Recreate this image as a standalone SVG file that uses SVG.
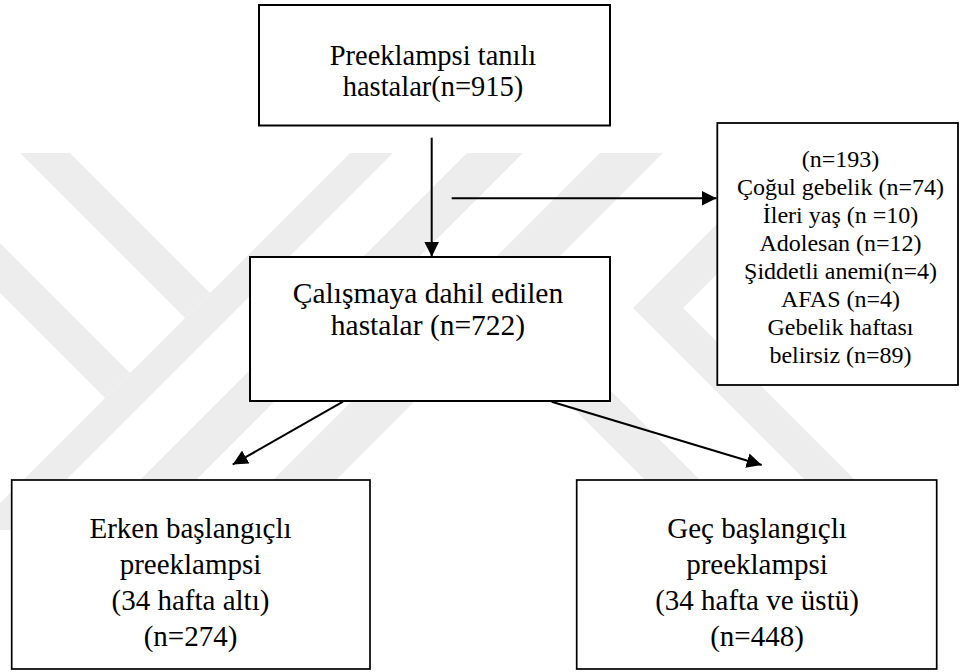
<svg xmlns="http://www.w3.org/2000/svg" width="963" height="672" viewBox="0 0 963 672">
  <style>
    .box { fill: #ffffff; stroke: #000000; stroke-width: 2; }
    .t { font-family: "Liberation Serif", "Times New Roman", Times, serif; fill: #000000; text-anchor: middle; }
    .conn { stroke: #000000; stroke-width: 2; fill: none; marker-end: url(#arrow); }
    .wm { fill: #ededed; }
  </style>
  <defs>
    <marker id="arrow" markerUnits="userSpaceOnUse" markerWidth="16" markerHeight="15" refX="15" refY="7.5" orient="auto">
      <path d="M0,0 L15,7.5 L0,15 z" fill="#000000"/>
    </marker>
    <clipPath id="wmclip">
      <rect x="0" y="153" width="963" height="377"/>
    </clipPath>
  </defs>

  <rect x="0" y="0" width="963" height="672" fill="#ffffff"/>

  <g id="watermark" clip-path="url(#wmclip)">
    <polygon class="wm" points="350,153 393,153 0,546 0,503"/>
    <polygon class="wm" points="20,153 70,153 210,293 185,318"/>
    <polygon class="wm" points="0,243 130,373 105,398 0,293"/>
    <polygon class="wm" points="467,153 523,153 146,530 90,530"/>
    <polygon class="wm" points="600,153 663,153 286,530 223,530"/>
    <polygon class="wm" points="465,300 520,300 750,530 695,530"/>
    <polygon class="wm" points="788,153 838,153 683,308 905,530 855,530 633,308"/>
  </g>

  <g id="connectors">
    <line class="conn" x1="431.7" y1="137.7" x2="431.7" y2="256.7"/>
    <line class="conn" x1="451.7" y1="198.3" x2="716.5" y2="198.3"/>
    <line class="conn" x1="343" y1="401.7" x2="232.7" y2="464.5"/>
    <line class="conn" x1="551.7" y1="401.7" x2="761.7" y2="465"/>
  </g>

  <g id="node-preeklampsi">
    <rect class="box" x="259" y="5" width="351" height="120.5"/>
    <text class="t" font-size="28.5" x="433" y="64.5">Preeklampsi tanılı</text>
    <text class="t" font-size="28.5" x="433" y="96">hastalar(n=915)</text>
  </g>

  <g id="node-dahil">
    <rect class="box" x="250" y="257" width="360" height="144"/>
    <text class="t" font-size="29.5" x="428" y="303">Çalışmaya dahil edilen</text>
    <text class="t" font-size="29.5" x="428" y="335">hastalar (n=722)</text>
  </g>

  <g id="node-haric">
    <rect class="box" x="717.3" y="123" width="240.7" height="262" style="stroke-width:1.8"/>
    <text class="t" font-size="24" x="840.5" y="166.5">(n=193)</text>
    <text class="t" font-size="24" x="840.5" y="194.6">Çoğul gebelik (n=74)</text>
    <text class="t" font-size="24" x="840.5" y="222.7">İleri yaş (n =10)</text>
    <text class="t" font-size="24" x="840.5" y="250.8">Adolesan (n=12)</text>
    <text class="t" font-size="24" x="840.5" y="278.9">Şiddetli anemi(n=4)</text>
    <text class="t" font-size="24" x="840.5" y="307">AFAS (n=4)</text>
    <text class="t" font-size="24" x="840.5" y="335.1">Gebelik haftası</text>
    <text class="t" font-size="24" x="840.5" y="363.2">belirsiz (n=89)</text>
  </g>

  <g id="node-erken">
    <rect class="box" x="11.7" y="480" width="358.3" height="189" style="stroke-width:1.7"/>
    <text class="t" font-size="29" x="190.5" y="538">Erken başlangıçlı</text>
    <text class="t" font-size="29" x="190.5" y="574">preeklampsi</text>
    <text class="t" font-size="29" x="190.5" y="610">(34 hafta altı)</text>
    <text class="t" font-size="29" x="190.5" y="646">(n=274)</text>
  </g>

  <g id="node-gec">
    <rect class="box" x="576.7" y="480" width="360" height="189" style="stroke-width:1.7"/>
    <text class="t" font-size="29" x="757" y="538">Geç başlangıçlı</text>
    <text class="t" font-size="29" x="757" y="574">preeklampsi</text>
    <text class="t" font-size="29" x="757" y="610">(34 hafta ve üstü)</text>
    <text class="t" font-size="29" x="757" y="646">(n=448)</text>
  </g>
</svg>
